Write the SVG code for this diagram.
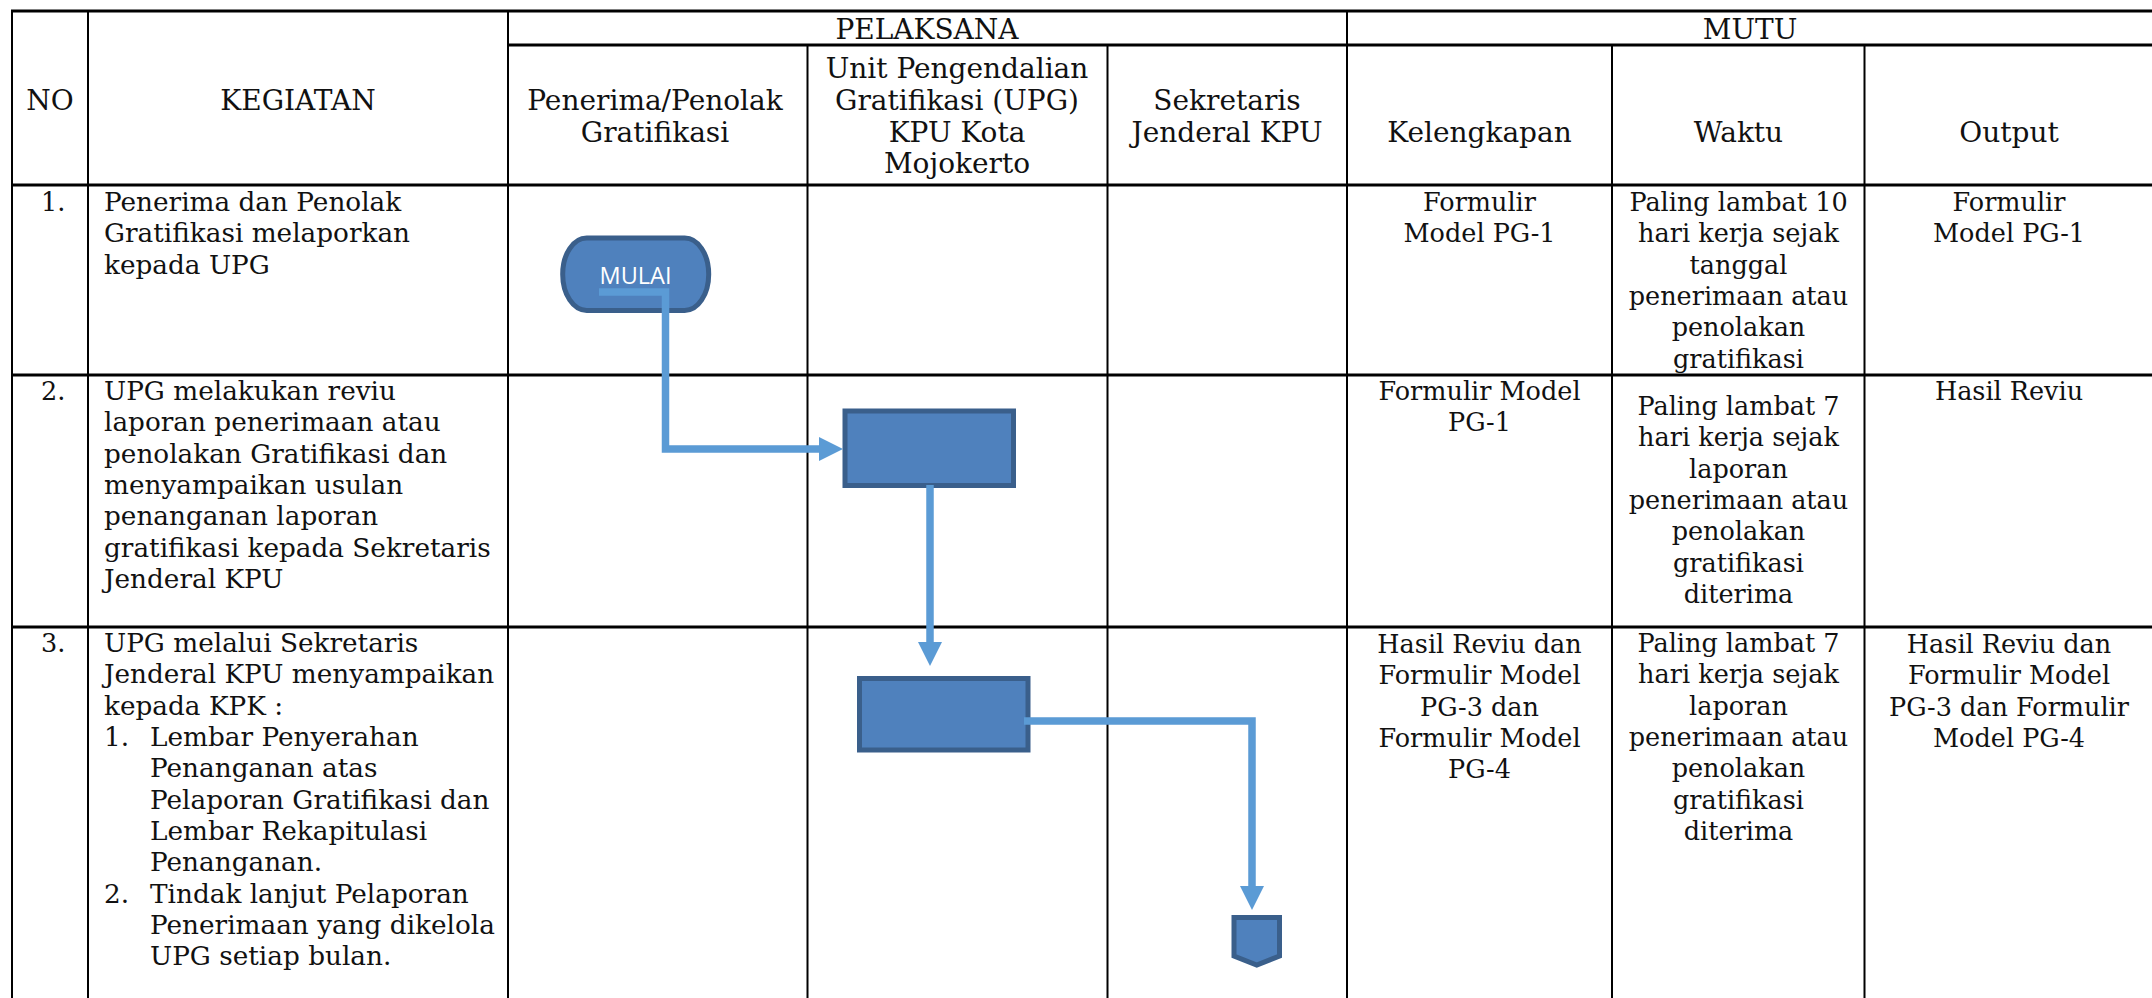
<svg xmlns="http://www.w3.org/2000/svg" width="2152" height="998" viewBox="0 0 2152 998">
<defs>
<style>
.hl{stroke:#000;stroke-width:3;fill:none}
.vl{stroke:#000;stroke-width:2;fill:none}
.hd{font-family:"DejaVu Serif","Liberation Serif",serif;font-size:28px;fill:#111}
.bd{font-family:"DejaVu Serif","Liberation Serif",serif;font-size:25.5px;fill:#111}
.kg{font-size:26.3px}
.c{text-anchor:middle}
.nd{fill:#4F81BD;stroke:#3A5F8B;stroke-width:5}
.lbl{font-family:"Open Sans","Liberation Sans",sans-serif;font-size:23.5px;fill:#fff;text-anchor:middle}
.cn{fill:none;stroke:#5B9BD5;stroke-width:7.5;marker-end:url(#ah)}
</style>
<marker id="ah" viewBox="0 0 24 24" refX="1" refY="12" markerWidth="24" markerHeight="24" markerUnits="userSpaceOnUse" orient="auto">
<path d="M0,0 L24,12 L0,24 z" fill="#5B9BD5"/>
</marker>
</defs>
<rect width="2152" height="998" fill="#fff"/>
<g id="table">
<line class="hl" x1="11" y1="11" x2="2152" y2="11"/>
<line class="hl" x1="508" y1="45" x2="2152" y2="45"/>
<line class="hl" x1="11" y1="185" x2="2152" y2="185"/>
<line class="hl" x1="11" y1="375" x2="2152" y2="375"/>
<line class="hl" x1="11" y1="627" x2="2152" y2="627"/>
<line class="vl" x1="12" y1="10" x2="12" y2="998"/>
<line class="vl" x1="88" y1="10" x2="88" y2="998"/>
<line class="vl" x1="508" y1="10" x2="508" y2="998"/>
<line class="vl" x1="807.5" y1="45" x2="807.5" y2="998"/>
<line class="vl" x1="1107.5" y1="45" x2="1107.5" y2="998"/>
<line class="vl" x1="1347" y1="10" x2="1347" y2="998"/>
<line class="vl" x1="1612" y1="45" x2="1612" y2="998"/>
<line class="vl" x1="1864.5" y1="45" x2="1864.5" y2="998"/>
</g>
<g id="header">
<text class="hd c" x="50" y="110">NO</text>
<text class="hd c" x="298" y="110">KEGIATAN</text>
<text class="hd c" x="927" y="39">PELAKSANA</text>
<text class="hd c" x="1750" y="39">MUTU</text>
<text class="hd c" x="655"><tspan x="655" y="110">Penerima/Penolak</tspan><tspan x="655" y="141.5">Gratifikasi</tspan></text>
<text class="hd c" x="957"><tspan x="957" y="78">Unit Pengendalian</tspan><tspan x="957" y="110">Gratifikasi (UPG)</tspan><tspan x="957" y="141.5">KPU Kota</tspan><tspan x="957" y="173">Mojokerto</tspan></text>
<text class="hd c" x="1227"><tspan x="1227" y="110">Sekretaris</tspan><tspan x="1227" y="141.5">Jenderal KPU</tspan></text>
<text class="hd c" x="1479.5" y="142">Kelengkapan</text>
<text class="hd c" x="1738.5" y="142">Waktu</text>
<text class="hd c" x="2009" y="142">Output</text>
</g>
<g id="row1">
<text class="bd" x="41" y="211">1.</text>
<text class="bd kg"><tspan x="104" y="211">Penerima dan Penolak</tspan><tspan x="104" y="242.3">Gratifikasi melaporkan</tspan><tspan x="104" y="273.6">kepada UPG</tspan></text>
<text class="bd c"><tspan x="1479.5" y="211">Formulir</tspan><tspan x="1479.5" y="242.3">Model PG-1</tspan></text>
<text class="bd c"><tspan x="1738.5" y="211">Paling lambat 10</tspan><tspan x="1738.5" y="242.3">hari kerja sejak</tspan><tspan x="1738.5" y="273.6">tanggal</tspan><tspan x="1738.5" y="305">penerimaan atau</tspan><tspan x="1738.5" y="336.3">penolakan</tspan><tspan x="1738.5" y="367.6">gratifikasi</tspan></text>
<text class="bd c"><tspan x="2009" y="211">Formulir</tspan><tspan x="2009" y="242.3">Model PG-1</tspan></text>
</g>
<g id="row2">
<text class="bd" x="41" y="400">2.</text>
<text class="bd kg"><tspan x="104" y="400">UPG melakukan reviu</tspan><tspan x="104" y="431.3">laporan penerimaan atau</tspan><tspan x="104" y="462.6">penolakan Gratifikasi dan</tspan><tspan x="104" y="494">menyampaikan usulan</tspan><tspan x="104" y="525.3">penanganan laporan</tspan><tspan x="104" y="556.6">gratifikasi kepada Sekretaris</tspan><tspan x="104" y="588">Jenderal KPU</tspan></text>
<text class="bd c"><tspan x="1479.5" y="400">Formulir Model</tspan><tspan x="1479.5" y="431.3">PG-1</tspan></text>
<text class="bd c"><tspan x="1738.5" y="415">Paling lambat 7</tspan><tspan x="1738.5" y="446.3">hari kerja sejak</tspan><tspan x="1738.5" y="477.6">laporan</tspan><tspan x="1738.5" y="509">penerimaan atau</tspan><tspan x="1738.5" y="540.3">penolakan</tspan><tspan x="1738.5" y="571.6">gratifikasi</tspan><tspan x="1738.5" y="603">diterima</tspan></text>
<text class="bd c" x="2009" y="400">Hasil Reviu</text>
</g>
<g id="row3">
<text class="bd" x="41" y="652">3.</text>
<text class="bd kg"><tspan x="104" y="652">UPG melalui Sekretaris</tspan><tspan x="104" y="683.3">Jenderal KPU menyampaikan</tspan><tspan x="104" y="714.6">kepada KPK :</tspan><tspan x="104" y="746">1.</tspan><tspan x="150" y="746">Lembar Penyerahan</tspan><tspan x="150" y="777.3">Penanganan atas</tspan><tspan x="150" y="808.6">Pelaporan Gratifikasi dan</tspan><tspan x="150" y="840">Lembar Rekapitulasi</tspan><tspan x="150" y="871.3">Penanganan.</tspan><tspan x="104" y="902.6">2.</tspan><tspan x="150" y="902.6">Tindak lanjut Pelaporan</tspan><tspan x="150" y="934">Penerimaan yang dikelola</tspan><tspan x="150" y="965.3">UPG setiap bulan.</tspan></text>
<text class="bd c"><tspan x="1479.5" y="653">Hasil Reviu dan</tspan><tspan x="1479.5" y="684.3">Formulir Model</tspan><tspan x="1479.5" y="715.6">PG-3 dan</tspan><tspan x="1479.5" y="747">Formulir Model</tspan><tspan x="1479.5" y="778.3">PG-4</tspan></text>
<text class="bd c"><tspan x="1738.5" y="652">Paling lambat 7</tspan><tspan x="1738.5" y="683.3">hari kerja sejak</tspan><tspan x="1738.5" y="714.6">laporan</tspan><tspan x="1738.5" y="746">penerimaan atau</tspan><tspan x="1738.5" y="777.3">penolakan</tspan><tspan x="1738.5" y="808.6">gratifikasi</tspan><tspan x="1738.5" y="840">diterima</tspan></text>
<text class="bd c"><tspan x="2009" y="653">Hasil Reviu dan</tspan><tspan x="2009" y="684.3">Formulir Model</tspan><tspan x="2009" y="715.6">PG-3 dan Formulir</tspan><tspan x="2009" y="747">Model PG-4</tspan></text>
</g>
<g id="node-mulai">
<rect class="nd" x="562.7" y="238" width="146" height="72.5" rx="24" ry="36" stroke-width="4.5"/>
<text class="lbl" x="635.5" y="284">MULAI</text>
</g>
<g id="node-review">
<rect class="nd" x="845" y="411" width="168.5" height="74.5"/>
</g>
<g id="node-submit">
<rect class="nd" x="859.5" y="678.5" width="168.5" height="71.5"/>
</g>
<g id="node-offpage">
<polygon class="nd" points="1234,917.5 1279.5,917.5 1279.5,956 1256.75,965 1234,956"/>
</g>
<g id="connectors">
<path class="cn" d="M599,292 H665.5 V449 H820"/>
<path class="cn" d="M930,485 V643"/>
<path class="cn" d="M1024,721 H1252 V887"/>
</g>
</svg>
